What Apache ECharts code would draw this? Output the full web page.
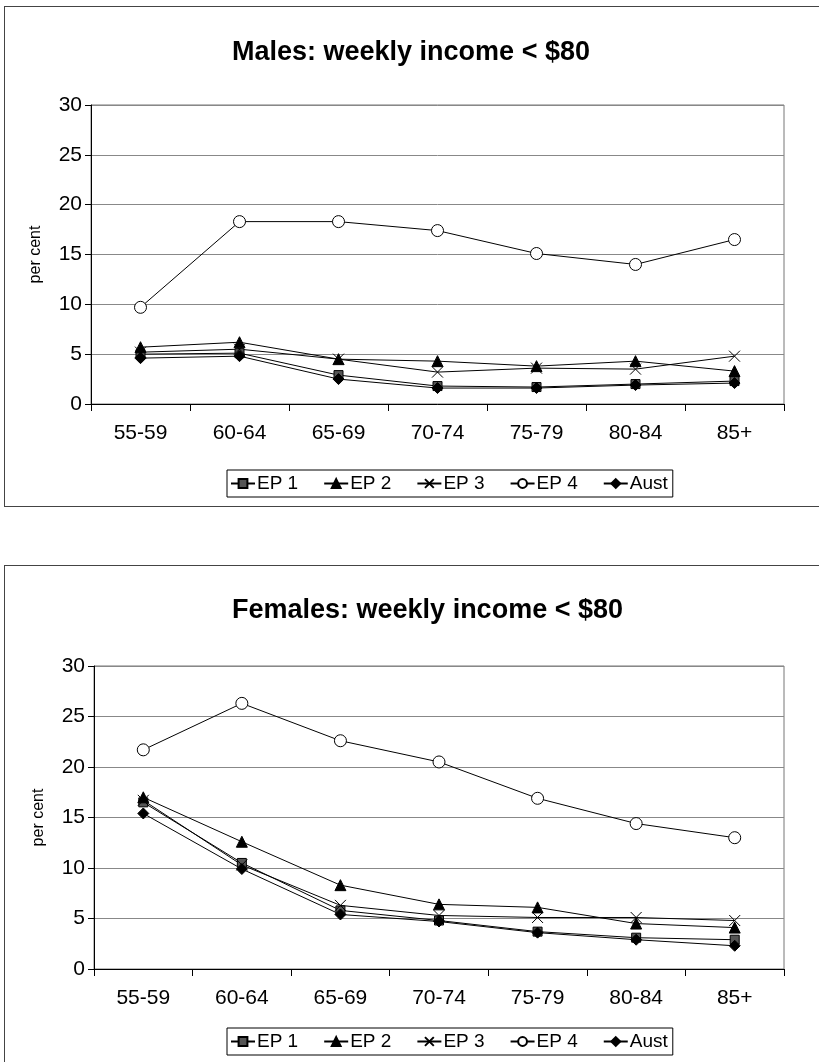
<!DOCTYPE html>
<html>
<head>
<meta charset="utf-8">
<script src="https://cdn.jsdelivr.net/npm/echarts@6/dist/echarts.min.js"></script>
<style>
  html, body { margin: 0; padding: 0; background: #fff; width: 819px; height: 1062px; overflow: hidden; }
  .box { position: absolute; border: 1px solid #444; background: #fff; }
  #males { left: 4px; top: 6px; width: 830px; height: 499px; }
  #females { left: 4px; top: 565px; width: 830px; height: 520px; }
</style>
</head>
<body>
<div id="males" class="box"></div>
<div id="females" class="box"></div>
<script>
// Age groups along the x axis
const ageGroups = ['55-59', '60-64', '65-69', '70-74', '75-79', '80-84', '85+'];
const seriesNames = ['EP 1', 'EP 2', 'EP 3', 'EP 4', 'Aust'];

// Males: per cent with weekly income < $80
const malesEP1 = [5.0, 5.1, 2.9, 1.8, 1.7, 2.0, 2.3];
const malesEP2 = [5.7, 6.2, 4.5, 4.3, 3.8, 4.3, 3.3];
const malesEP3 = [5.2, 5.5, 4.5, 3.2, 3.6, 3.5, 4.8];
const malesEP4 = [9.7, 18.3, 18.3, 17.4, 15.1, 14.0, 16.5];
const malesAust = [4.6, 4.8, 2.5, 1.6, 1.6, 1.9, 2.1];

// Females: per cent with weekly income < $80
const femalesEP1 = [16.5, 10.5, 5.8, 4.8, 3.7, 3.1, 2.9];
const femalesEP2 = [17.0, 12.6, 8.3, 6.4, 6.1, 4.5, 4.1];
const femalesEP3 = [16.7, 10.3, 6.3, 5.3, 5.1, 5.1, 4.8];
const femalesEP4 = [21.7, 26.3, 22.6, 20.5, 16.9, 14.4, 13.0];
const femalesAust = [15.4, 9.9, 5.4, 4.7, 3.6, 2.9, 2.3];

const FONT = '"Liberation Sans", Arial, sans-serif';
const crossPath = 'path://M0,0L10,10M10,0L0,10';

// Marker style for each series, in legend order
const markers = [
  { symbol: 'rect', size: 9, fill: '#555', stroke: '#000' },
  { symbol: 'triangle', size: 11, fill: '#000', stroke: '#000' },
  { symbol: crossPath, size: 11, fill: 'none', stroke: '#000' },
  { symbol: 'circle', size: 12, fill: '#fff', stroke: '#000' },
  { symbol: 'diamond', size: 11, fill: '#000', stroke: '#000' }
];

function buildSeries(values) {
  return values.map((data, i) => ({
    name: seriesNames[i],
    type: 'line',
    data: data,
    symbol: markers[i].symbol,
    symbolSize: markers[i].size,
    showAllSymbol: true,
    z: i === 3 ? 3 : 2,
    lineStyle: { color: '#000', width: 1 },
    itemStyle: { color: markers[i].fill, borderColor: markers[i].stroke, borderWidth: 1 },
    emphasis: { disabled: true },
    animation: false
  }));
}

function buildOption(title, values, layout) {
  return {
    animation: false,
    textStyle: { fontFamily: FONT },
    title: {
      text: title,
      left: layout.titleLeft,
      top: layout.titleTop,
      textStyle: { fontFamily: FONT, fontSize: 27, fontWeight: 'bold', color: '#000' }
    },
    legend: {
      data: seriesNames,
      left: layout.legendLeft,
      top: layout.legendTop,
      orient: 'horizontal',
      itemWidth: 24,
      itemHeight: 11,
      itemGap: 25,
      padding: [4, 5, 4, 3],
      borderColor: '#000',
      borderWidth: 1,
      textStyle: { fontFamily: FONT, fontSize: 19, color: '#000', padding: [0, 0, 0, -3] },
      selectedMode: false
    },
    grid: {
      left: layout.gridLeft,
      top: layout.gridTop,
      width: layout.gridWidth,
      height: layout.gridHeight,
      show: true,
      borderColor: '#777',
      borderWidth: 1,
      containLabel: false
    },
    xAxis: {
      type: 'category',
      data: ageGroups,
      boundaryGap: true,
      axisLine: { lineStyle: { color: '#000', width: 1 } },
      axisTick: { show: true, length: 7, lineStyle: { color: '#000' } },
      axisLabel: { fontFamily: FONT, fontSize: 21, color: '#000', margin: 19 }
    },
    yAxis: {
      type: 'value',
      min: 0,
      max: 30,
      interval: 5,
      name: 'per cent',
      nameLocation: 'middle',
      nameGap: 47,
      nameRotate: 90,
      nameTextStyle: { fontFamily: FONT, fontSize: 16, color: '#000' },
      axisLine: { show: true, lineStyle: { color: '#000', width: 1 } },
      axisTick: { show: true, length: 6, lineStyle: { color: '#000' } },
      axisLabel: { fontFamily: FONT, fontSize: 21, color: '#000', margin: 9 },
      splitLine: { show: true, lineStyle: { color: '#888', width: 1 } }
    },
    series: buildSeries(values)
  };
}

const malesChart = echarts.init(document.getElementById('males'), null, { renderer: 'canvas' });
malesChart.setOption(buildOption(
  'Males: weekly income < $80',
  [malesEP1, malesEP2, malesEP3, malesEP4, malesAust],
  { titleLeft: 222, titleTop: 27, legendLeft: 222, legendTop: 463, gridLeft: 86, gridTop: 98, gridWidth: 693, gridHeight: 299 }
));

const femalesChart = echarts.init(document.getElementById('females'), null, { renderer: 'canvas' });
femalesChart.setOption(buildOption(
  'Females: weekly income < $80',
  [femalesEP1, femalesEP2, femalesEP3, femalesEP4, femalesAust],
  { titleLeft: 222, titleTop: 26, legendLeft: 222, legendTop: 462, gridLeft: 89, gridTop: 100, gridWidth: 690, gridHeight: 303 }
));
</script>
</body>
</html>
